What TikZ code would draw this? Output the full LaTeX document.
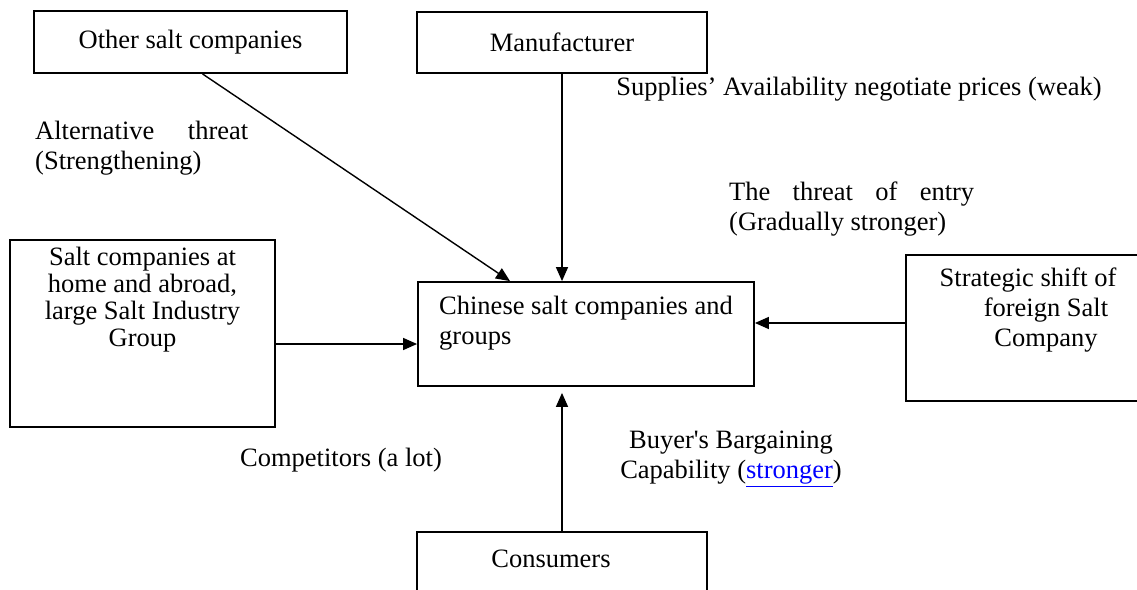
\documentclass[tikz,border=0pt]{standalone}
\usepackage{fontspec}
\setmainfont{Liberation Serif}
\usetikzlibrary{arrows.meta}
\begin{document}
\begin{tikzpicture}[x=1pt,y=-1pt,
  every node/.style={font=\fontsize{26.5}{27}\selectfont, inner sep=0pt},
  wide/.style={font=\fontsize{26.5}{30}\selectfont},
  box/.style={draw, line width=1.8pt},
  lbl/.style={align=left, wide},
  arr/.style={line width=1.4pt, -{Triangle[length=14pt,width=12pt]}}]
\useasboundingbox (0,0) rectangle (1137,589);
\clip (0,0) rectangle (1137,589);
% boxes
\node[box, minimum width=313pt, minimum height=62pt] (obox) at (190.5,42) {Other salt companies};
\node[box, minimum width=290pt, minimum height=61pt] (mbox) at (562,42.5) {Manufacturer};
\node[box, minimum width=336pt, minimum height=104pt] (cbox) at (586,334) {};
\node[box, minimum width=265pt, minimum height=187pt] (lbox) at (142.5,333.5) {};
\node[box, minimum width=254pt, minimum height=146pt] (rbox) at (1033,328) {};
\node[box, minimum width=290pt, minimum height=96pt] (cons) at (562,580) {};
% box texts
\node[align=left, wide, anchor=west] (ctext) at (439,323) {Chinese salt companies and\\groups};
\node[align=center] (ltext) at (142.5,300) {Salt companies at\\home and abroad,\\large Salt Industry\\Group};
\node[align=center, wide] (rtext) at (1046,310) {Strategic shift of\hspace*{36pt}\\foreign Salt\\Company};
\node (constext) at (551,559) {Consumers};
% labels
\node[lbl, anchor=west] (alt) at (35,148) {\makebox[213pt][s]{Alternative threat}\\(Strengthening)};
\node (sup) at (859,89) {Supplies’ Availability negotiate prices (weak)};
\node[lbl, anchor=west] (entry) at (729,209) {\makebox[245pt][s]{The threat of entry}\\(Gradually stronger)};
\node[align=center, wide] (buyer) at (731,459) {Buyer\textquotesingle s Bargaining\\Capability (\textcolor{blue}{\underline{stronger}})};
\node (comp) at (341,460) {Competitors (a lot)};
% connectors
\coordinate (ya) at (0,344);
\coordinate (yr) at (0,323);
\draw[arr] ([xshift=12pt]obox.south) -- ([xshift=-76pt]cbox.north);
\draw[arr] (mbox.south) -- (mbox.south |- cbox.north);
\draw[arr] (lbox.east |- ya) -- (cbox.west |- ya);
\draw[arr] (rbox.west |- yr) -- (cbox.east |- yr);
\draw[arr, shorten >=6pt] (cons.north) -- (cons.north |- cbox.south);
\end{tikzpicture}
\end{document}
